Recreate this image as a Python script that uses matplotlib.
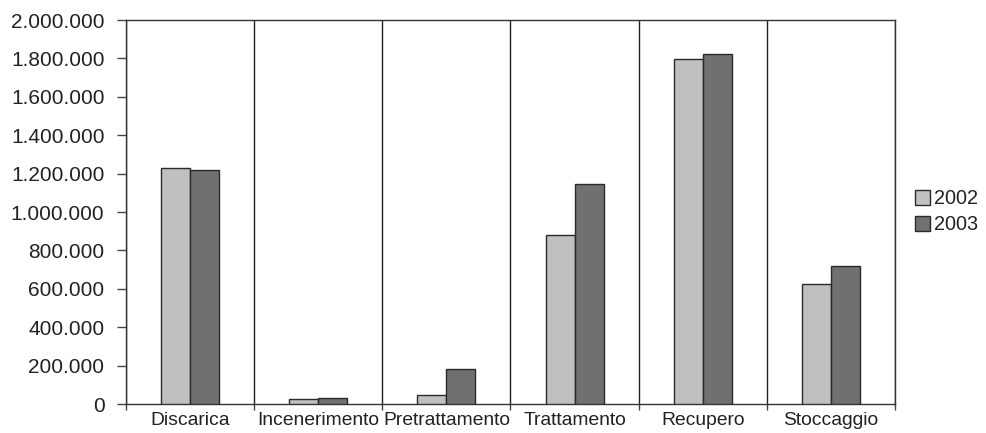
import numpy as np
import matplotlib
matplotlib.use("Agg")
import matplotlib.pyplot as plt
from matplotlib.ticker import FuncFormatter, FixedLocator

# categories and values (tonnes)
categorie = ["Discarica", "Incenerimento", "Pretrattamento", "Trattamento", "Recupero", "Stoccaggio"]
anni = ["2002", "2003"]
valori_2002 = [1229000, 25000, 46000, 879000, 1797000, 623000]
valori_2003 = [1217000, 32000, 182000, 1147000, 1821000, 719000]

colori = ["#c0c0c0", "#707070"]
bordo = "#2a2a2a"
fs = 15

plt.rcParams['font.family'] = ['Liberation Sans', 'DejaVu Sans']

fig = plt.figure(figsize=(9.87, 4.33), dpi=100)
ax = fig.add_axes([126 / 987, 29 / 433, 769 / 987, 384 / 433])

x = np.arange(len(categorie))
w = 0.226
ax.bar(x - w / 2, valori_2002, w, color=colori[0], edgecolor=bordo, linewidth=1, label=anni[0], zorder=3)
ax.bar(x + w / 2, valori_2003, w, color=colori[1], edgecolor=bordo, linewidth=1, label=anni[1], zorder=3)

ax.set_xlim(-0.5, len(categorie) - 0.5)
ax.set_ylim(0, 2000000)
ax.set_yticks(np.arange(0, 2000001, 200000))
ax.yaxis.set_major_formatter(FuncFormatter(lambda v, p: f"{v:,.0f}".replace(",", ".")))

# category labels in the middle, separators at the boundaries
ax.set_xticks(x)
ax.set_xticklabels(categorie)
ax.xaxis.set_minor_locator(FixedLocator(np.arange(-0.5, len(categorie), 1.0)))
ax.tick_params(axis='x', which='major', length=0, pad=5.5, labelsize=13.9, colors="#222222")
ax.tick_params(axis='x', which='minor', length=4, width=1, color="#444444")
ax.tick_params(axis='y', length=6.5, width=1, color="#444444", labelsize=fs, labelcolor="#222222", pad=9)
ax.grid(axis='x', which='minor', color="#222222", linewidth=1, zorder=1)

for s in ax.spines.values():
    s.set_color("#333333")
    s.set_linewidth(1)

leg = fig.legend(loc='upper left', bbox_to_anchor=(915 / 987, 1 - 189 / 433), frameon=False,
                 fontsize=14.3, handlelength=0.78, handleheight=0.78, handletextpad=0.2,
                 labelspacing=0.35, borderpad=0, borderaxespad=0)
for t in leg.get_texts():
    t.set_color("#222222")

fig.savefig("out.png", dpi=100, facecolor="white")
